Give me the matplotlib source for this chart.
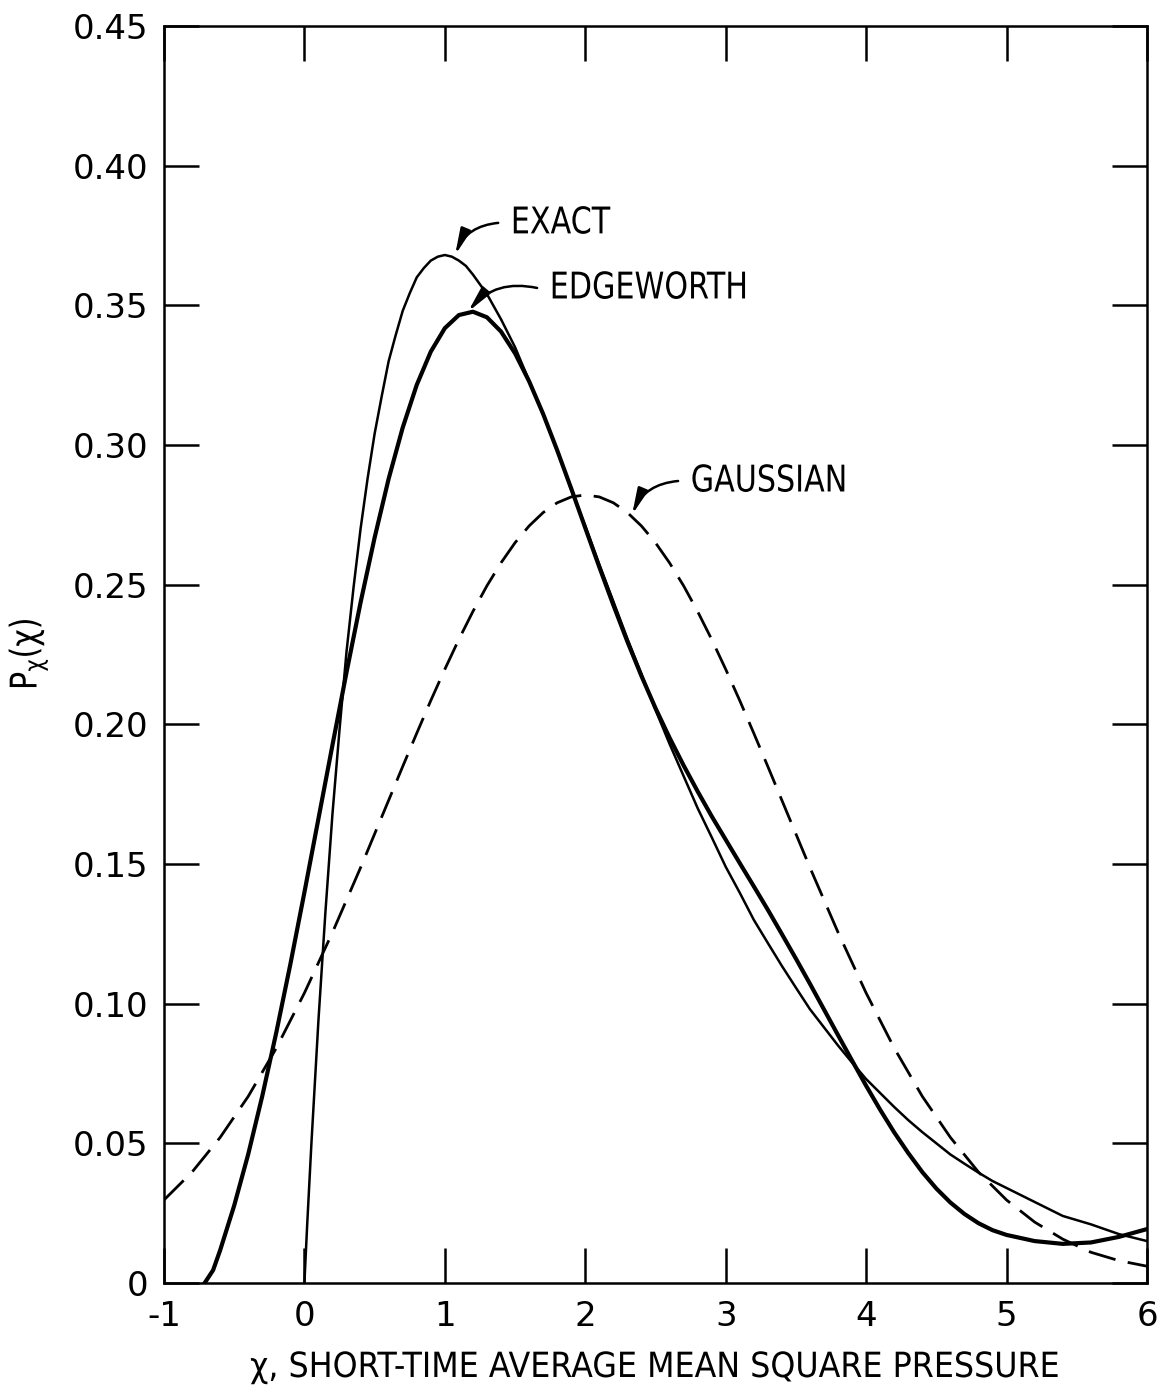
import numpy as np
import matplotlib.pyplot as plt
import matplotlib.patheffects as pe
from matplotlib.transforms import Affine2D

# valores
x_exact = [0.0, 0.02, 0.05, 0.1, 0.15, 0.2, 0.25, 0.3, 0.35, 0.4, 0.45, 0.5, 0.55, 0.6,
           0.65, 0.7, 0.75, 0.8, 0.85, 0.9, 0.95, 1.0, 1.05, 1.1, 1.15, 1.2, 1.3, 1.4,
           1.5, 1.6, 1.7, 1.8, 1.9, 2.0, 2.1, 2.2, 2.3, 2.4, 2.5, 2.6, 2.7, 2.8, 2.9,
           3.0, 3.1, 3.2, 3.3, 3.4, 3.5, 3.6, 3.7, 3.8, 3.9, 4.0, 4.1, 4.2, 4.3, 4.4,
           4.5, 4.6, 4.7, 4.8, 4.9, 5.0, 5.2, 5.4, 5.6, 5.8, 6.0]
p_exact = [0.0, 0.021, 0.050, 0.094, 0.133, 0.168, 0.198, 0.226, 0.249, 0.270, 0.288,
           0.304, 0.3173, 0.330, 0.3393, 0.348, 0.3543, 0.360, 0.3633, 0.366, 0.3674,
           0.368, 0.3674, 0.366, 0.3641, 0.361, 0.354, 0.345, 0.335, 0.323, 0.311,
           0.298, 0.284, 0.271, 0.2572, 0.244, 0.2306, 0.218, 0.2052, 0.193, 0.1815,
           0.170, 0.1596, 0.149, 0.1397, 0.130, 0.1217, 0.1135, 0.1057, 0.098, 0.0915,
           0.085, 0.0789, 0.073, 0.068, 0.063, 0.0583, 0.054, 0.050, 0.046, 0.0427,
           0.0395, 0.0365, 0.034, 0.029, 0.024, 0.021, 0.0175, 0.015]

x_edge = [-0.71, -0.65, -0.6, -0.5, -0.4, -0.3, -0.2, -0.1, 0.0, 0.1, 0.2, 0.3, 0.4,
          0.5, 0.6, 0.7, 0.8, 0.9, 1.0, 1.1, 1.2, 1.3, 1.4, 1.5, 1.6, 1.7, 1.8, 1.9,
          2.0, 2.1, 2.2, 2.3, 2.4, 2.5, 2.6, 2.7, 2.8, 2.9, 3.0, 3.1, 3.2, 3.3, 3.4,
          3.5, 3.6, 3.7, 3.8, 3.9, 4.0, 4.1, 4.2, 4.3, 4.4, 4.5, 4.6, 4.7, 4.8, 4.9,
          5.0, 5.2, 5.4, 5.6, 5.8, 6.0]
p_edge = [0.0, 0.0046, 0.0117, 0.0277, 0.0461, 0.0669, 0.0897, 0.1141, 0.1398, 0.1662,
          0.1926, 0.2186, 0.2436, 0.2668, 0.2879, 0.3062, 0.3215, 0.3334, 0.3418, 0.3465,
          0.3477, 0.3457, 0.3406, 0.3328, 0.3228, 0.3111, 0.2981, 0.2844, 0.2703, 0.2563,
          0.2427, 0.2296, 0.2173, 0.2058, 0.1952, 0.1853, 0.1760, 0.1671, 0.1587, 0.1503,
          0.1420, 0.1336, 0.1249, 0.1161, 0.1071, 0.0979, 0.0887, 0.0796, 0.0706, 0.0620,
          0.0539, 0.0465, 0.0397, 0.0338, 0.0288, 0.0247, 0.0214, 0.0189, 0.0172, 0.0150,
          0.0140, 0.0145, 0.0165, 0.0193]

x_gauss = [-1.0, -0.8, -0.6, -0.4, -0.2, 0.0, 0.2, 0.4, 0.6, 0.7, 0.8, 0.9, 1.0, 1.1,
           1.2, 1.3, 1.4, 1.5, 1.6, 1.7, 1.8, 1.9, 2.0, 2.1, 2.2, 2.3, 2.4, 2.5, 2.6,
           2.7, 2.8, 2.9, 3.0, 3.1, 3.2, 3.3, 3.4, 3.6, 3.8, 4.0, 4.2, 4.4, 4.6, 4.8,
           5.0, 5.2, 5.4, 5.6, 5.8, 6.0]
p_gauss = [0.0297, 0.0397, 0.0521, 0.0668, 0.0841, 0.1038, 0.1255, 0.1487, 0.1728,
           0.1849, 0.1968, 0.2085, 0.2197, 0.2304, 0.2404, 0.2496, 0.2578, 0.2650,
           0.2710, 0.2758, 0.2793, 0.2814, 0.2821, 0.2814, 0.2793, 0.2758, 0.2710,
           0.2650, 0.2578, 0.2496, 0.2404, 0.2304, 0.2197, 0.2085, 0.1968, 0.1849,
           0.1728, 0.1487, 0.1255, 0.1038, 0.0841, 0.0668, 0.0521, 0.0397, 0.0297,
           0.0218, 0.0157, 0.0110, 0.0080, 0.0060]

x_ticks = [-1, 0, 1, 2, 3, 4, 5, 6]
x_ticklabels = ['-1', '0', '1', '2', '3', '4', '5', '6']
y_ticks = [0, 0.05, 0.10, 0.15, 0.20, 0.25, 0.30, 0.35, 0.40, 0.45]
y_ticklabels = ['0', '0.05', '0.10', '0.15', '0.20', '0.25', '0.30', '0.35', '0.40', '0.45']

# etiquetas: texto, punta de flecha, inicio de flecha (junto al texto)
etiquetas = [('EXACT', (1.073, 0.368), (1.38, 0.3795)),
             ('EDGEWORTH', (1.165, 0.3477), (1.657, 0.3562)),
             ('GAUSSIAN', (2.333, 0.275), (2.661, 0.2871))]


class Estrecho(pe.AbstractPathEffect):
    # letra condensada: aprieta el texto en horizontal desde su origen
    def __init__(self, f=0.82):
        super().__init__()
        self.f = f

    def draw_path(self, renderer, gc, tpath, affine, rgbFace=None):
        renderer.draw_path(gc, tpath, Affine2D().scale(self.f, 1) + affine, rgbFace)


fig = plt.figure(figsize=(11.62, 13.95), dpi=100)
ax = fig.add_axes([0.1411, 0.0803, 0.846, 0.9011])

ax.plot(x_exact, p_exact, color='black', lw=1.8)
ax.plot(x_edge, p_edge, color='black', lw=3.0)
ax.plot(x_gauss, p_gauss, color='black', lw=2.0, dashes=(10, 4.5))

ax.set_xlim(-1, 6)
ax.set_ylim(0, 0.45)
ax.set_xticks(x_ticks)
ax.set_xticklabels(x_ticklabels)
ax.set_yticks(y_ticks)
ax.set_yticklabels(y_ticklabels)
ax.tick_params(direction='in', length=25, width=1.8, top=True, right=True,
               labelsize=24.5, color='black')
ax.tick_params(axis='x', pad=12)
ax.tick_params(axis='y', pad=11)
for s in ax.spines.values():
    s.set_linewidth(1.8)

for texto, punta, inicio in etiquetas:
    ax.annotate('', xy=punta, xytext=inicio,
                arrowprops=dict(arrowstyle='-|>,head_length=0.6,head_width=0.12',
                                connectionstyle='arc3,rad=0.3', color='black',
                                lw=1.8, shrinkA=0, shrinkB=0, mutation_scale=26))
    ax.text(inicio[0] + 0.09, inicio[1], texto, fontsize=26.5,
            va='center', ha='left', path_effects=[Estrecho(0.82)])

fig.text(250 / 1162, 1 - 1377 / 1395, 'χ, SHORT-TIME AVERAGE MEAN SQUARE PRESSURE',
         fontsize=25, ha='left', va='baseline', path_effects=[Estrecho(0.915)])
fig.text(28 / 1162, 1 - 690 / 1395, r'P$_{\mathregular{χ}}$(χ)', fontsize=26.5,
         rotation=90, ha='center', va='bottom', path_effects=[Estrecho(0.82)])

fig.savefig('out.png', dpi=100)
